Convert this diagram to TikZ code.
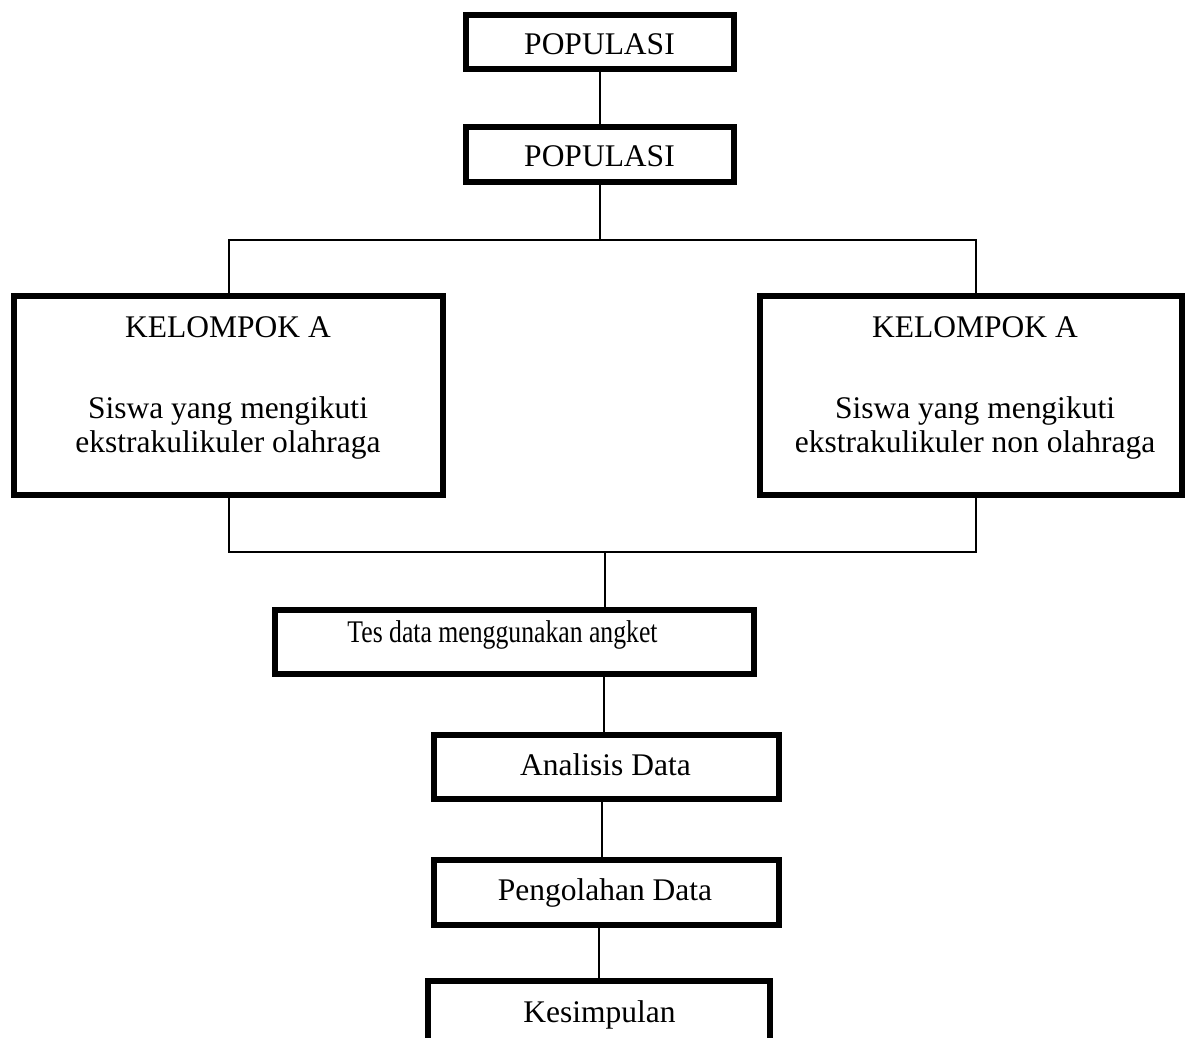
\documentclass[tikz,border=0pt]{standalone}
\usepackage{fontspec}
\setmainfont{Liberation Serif}
\begin{document}
\begin{tikzpicture}[x=1pt,y=-1pt,
  box/.style={draw=black,line width=5.7pt,rectangle,inner sep=0pt},
  conn/.style={draw=black,line width=2pt},
  txt/.style={anchor=base,inner sep=0pt,font=\fontsize{31.5}{34}\selectfont}]
\useasboundingbox (0,0) rectangle (1187,1038);
\clip (0,0) rectangle (1187,1038);
% boxes
\node[box,minimum width=268.3pt,minimum height=54.3pt] (p1) at (600,42) {};
\node[box,minimum width=268.3pt,minimum height=55.3pt] (p2) at (600,154.5) {};
\node[box,minimum width=429.3pt,minimum height=199.3pt] (ka) at (228.5,395.5) {};
\node[box,minimum width=422.3pt,minimum height=199.3pt] (kb) at (971,395.5) {};
\node[box,minimum width=479.3pt,minimum height=64.3pt] (tes) at (514.5,642) {};
\node[box,minimum width=345.3pt,minimum height=64.3pt] (an) at (606.5,767) {};
\node[box,minimum width=345.3pt,minimum height=65.3pt] (pg) at (606.5,892.5) {};
\node[box,minimum width=342.3pt,minimum height=64.3pt] (ks) at (599,1013) {};
% texts
\node[txt] (t1) at (599.5,55) {POPULASI};
\node[txt] (t2) at (599.5,167) {POPULASI};
\node[txt] (ta1) at (228,337) {KELOMPOK A};
\node[txt] (ta2) at (228,418) {Siswa yang mengikuti};
\node[txt] (ta3) at (228,452) {ekstrakulikuler olahraga};
\node[txt] (tb1) at (975,337) {KELOMPOK A};
\node[txt] (tb2) at (975,418) {Siswa yang mengikuti};
\node[txt] (tb3) at (975,452) {ekstrakulikuler non olahraga};
\node[txt] (tt) at (502.5,642) {\scalebox{0.816}[1]{Tes data menggunakan angket}};
\node[txt] (tan) at (605.5,775) {Analisis Data};
\node[txt] (tpg) at (605,900) {Pengolahan Data};
\node[txt] (tks) at (599.5,1022) {Kesimpulan};
% connectors
\coordinate (s1) at (600,240);
\coordinate (m1) at (605,552);
\draw[conn] (p1.south) -- (p2.north);
\draw[conn] (p2.south) -- (s1);
\draw[conn] (ka.north) |- (s1);
\draw[conn] ([xshift=5pt]kb.north) |- (s1);
\draw[conn] (ka.south) |- (m1);
\draw[conn] ([xshift=5pt]kb.south) |- (m1);
\draw[conn] (m1) -- (m1 |- tes.north);
\draw[conn] ([xshift=-2.5pt]an.north) -- ([xshift=-2.5pt]an.north |- tes.south);
\draw[conn] ([xshift=-4.5pt]an.south) -- ([xshift=-4.5pt]pg.north);
\draw[conn] (ks.north) -- (ks.north |- pg.south);
\end{tikzpicture}
\end{document}
